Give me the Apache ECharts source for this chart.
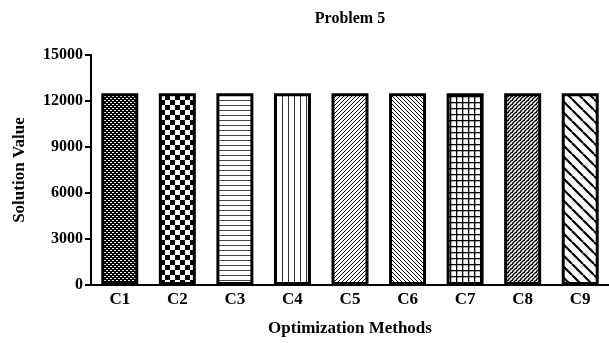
<!DOCTYPE html>
<html>
<head>
<meta charset="utf-8">
<script src="https://cdn.jsdelivr.net/npm/echarts@6/dist/echarts.min.js"></script>
<style>
html,body{margin:0;padding:0;background:#fff;}
#c{width:609px;height:343px;}
</style>
</head>
<body>
<div id="c"></div>
<script>
const titleText = 'Problem 5';
const categories = ['C1','C2','C3','C4','C5','C6','C7','C8','C9'];
const values = [12500,12500,12500,12500,12500,12500,12500,12500,12500];
const yTicks = [0,3000,6000,9000,12000,15000];
const xAxisName = 'Optimization Methods';
const yAxisName = 'Solution Value';
const patternKinds = ['fineChecker','checker','hlines','vlines','fwdFine','backFine','grid','fwdDense','backWide'];

function makePattern(kind){
  const c = document.createElement('canvas');
  const setSize = (a,b)=>{c.width=a;c.height=b;};
  let ctx;
  switch(kind){
    case 'fineChecker':
      setSize(4,4); ctx=c.getContext('2d');
      ctx.fillStyle='#000';ctx.fillRect(0,0,4,4);
      ctx.fillStyle='#fff';ctx.fillRect(0,0,1,1);ctx.fillRect(2,2,1,1);ctx.fillRect(1,0,1,1);ctx.fillRect(3,2,1,1);
      break;
    case 'checker':
      setSize(10,10); ctx=c.getContext('2d');
      ctx.fillStyle='#fff';ctx.fillRect(0,0,10,10);
      ctx.fillStyle='#000';ctx.fillRect(0,0,5,5);ctx.fillRect(5,5,5,5);
      break;
    case 'hlines':
      setSize(4,5); ctx=c.getContext('2d');
      ctx.fillStyle='#fff';ctx.fillRect(0,0,4,5);
      ctx.fillStyle='#444';ctx.fillRect(0,0,4,1);
      break;
    case 'vlines':
      setSize(6,4); ctx=c.getContext('2d');
      ctx.fillStyle='#fff';ctx.fillRect(0,0,6,4);
      ctx.fillStyle='#333';ctx.fillRect(0,0,1,4);
      break;
    case 'fwdFine':
    case 'backFine':
    case 'backWide':
    case 'fwdDense': {
      const p = kind==='backWide'?11:4;
      setSize(p,p); ctx=c.getContext('2d');
      ctx.fillStyle='#fff';ctx.fillRect(0,0,p,p);
      ctx.strokeStyle='#000';
      ctx.lineWidth = kind==='backWide'?2.2:(kind==='fwdDense'?1.4:1);
      ctx.beginPath();
      for(let k=-1;k<=1;k++){
        if(kind==='fwdFine'||kind==='fwdDense'){
          ctx.moveTo(k*p, p); ctx.lineTo(k*p+p, 0);
        } else {
          ctx.moveTo(k*p, 0); ctx.lineTo(k*p+p, p);
        }
      }
      ctx.stroke();
      if(kind==='fwdDense'){
        ctx.fillStyle='#000';
        ctx.fillRect(0,0,1,1);
      }
      break;
    }
    case 'grid':
      setSize(6,6); ctx=c.getContext('2d');
      ctx.fillStyle='#fff';ctx.fillRect(0,0,6,6);
      ctx.fillStyle='#000';ctx.fillRect(0,0,6,1.3);ctx.fillRect(0,0,1.3,6);
      break;
  }
  return c;
}

const font = 'Liberation Serif';
const chart = echarts.init(document.getElementById('c'));
const barData = values.map((v,i)=>({
  value: v,
  itemStyle: {
    color: {image: makePattern(patternKinds[i]), repeat: 'repeat'},
    borderColor: '#000',
    borderWidth: 3
  }
}));

chart.setOption({
  animation: false,
  title: {
    text: titleText, left: 345, top: 6, textAlign: 'center',
    textStyle: {fontFamily: font, fontWeight: 'bold', fontSize: 16, color: '#000'}
  },
  grid: {left: 91, right: 0, top: 55, bottom: 58, containLabel: false},
  xAxis: {
    type: 'category', data: categories,
    name: xAxisName, nameLocation: 'middle', nameGap: 35,
    nameTextStyle: {fontFamily: font, fontWeight: 'bold', fontSize: 17, color: '#000'},
    axisLine: {lineStyle: {color: '#000', width: 2}},
    axisTick: {alignWithLabel: true, length: 5, lineStyle: {color: '#000', width: 2}},
    axisLabel: {fontFamily: font, fontWeight: 'bold', fontSize: 17, color: '#000', margin: 6}
  },
  yAxis: {
    type: 'value', min: yTicks[0], max: yTicks[yTicks.length-1], interval: yTicks[1]-yTicks[0],
    name: yAxisName, nameLocation: 'middle', nameGap: 63, nameRotate: 90,
    nameTextStyle: {fontFamily: font, fontWeight: 'bold', fontSize: 17, color: '#000'},
    axisLine: {show: true, lineStyle: {color: '#000', width: 2}},
    axisTick: {show: true, length: 6, lineStyle: {color: '#000', width: 2}},
    splitLine: {show: false},
    axisLabel: {fontFamily: font, fontWeight: 'bold', fontSize: 16, color: '#000', margin: 8,
      formatter: v => String(v)}
  },
  series: [{
    type: 'bar', data: barData, barWidth: 37
  }]
});
</script>
</body>
</html>
